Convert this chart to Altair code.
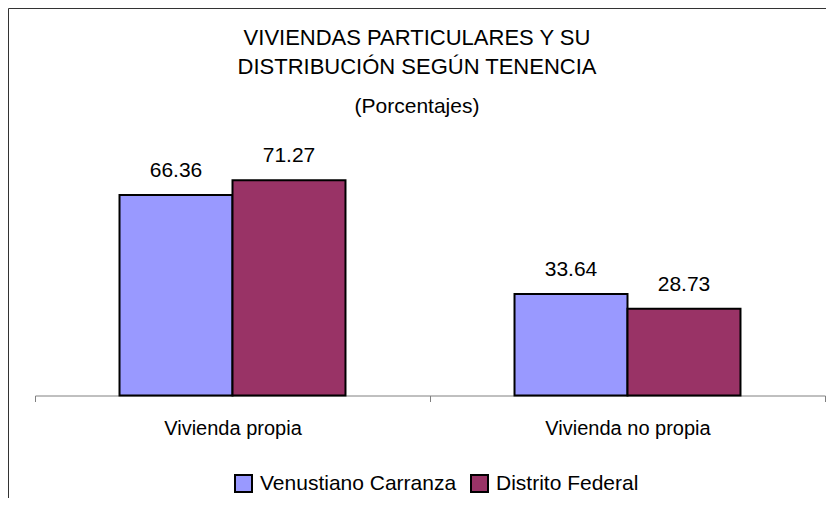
import altair as alt
import pandas as pd

categories = ["Vivienda propia", "Vivienda no propia"]
series = ["Venustiano Carranza", "Distrito Federal"]
venustiano = [66.36, 33.64]
distrito = [71.27, 28.73]
colors = ["#9999FF", "#993366"]
title_lines = ["VIVIENDAS PARTICULARES Y SU", "DISTRIBUCIÓN SEGÚN TENENCIA"]
subtitle_text = "(Porcentajes)"

rows = []
for i, c in enumerate(categories):
    rows.append({"categoria": c, "serie": series[0], "valor": venustiano[i]})
    rows.append({"categoria": c, "serie": series[1], "valor": distrito[i]})
df = pd.DataFrame(rows)

FONT = "Liberation Sans"
W, H = 818, 490
BASE = 387.5
PX_PER_UNIT = 3.02

x = alt.X(
    "categoria:N",
    sort=categories,
    scale=alt.Scale(domain=categories, range=[27, 817], paddingInner=0, paddingOuter=0),
    axis=alt.Axis(
        title=None, orient="bottom", offset=-(H - BASE), tickBand="extent",
        domainColor="#808080", tickColor="#808080", tickSize=6, domainWidth=1, tickWidth=1,
        labelFontSize=20, labelColor="black", labelFont=FONT, labelPadding=17, labelAngle=0,
    ),
)
xoff = alt.XOffset("serie:N", sort=series,
                   scale=alt.Scale(domain=series, paddingInner=0, paddingOuter=0.748))
y = alt.Y("valor:Q", scale=alt.Scale(domain=[0, 80], range=[BASE, BASE - 80 * PX_PER_UNIT],
                                      nice=False, zero=True), axis=None)
color = alt.Color(
    "serie:N", sort=series, scale=alt.Scale(domain=series, range=colors),
    legend=alt.Legend(
        title=None, orient="none", legendX=225, legendY=465, direction="horizontal",
        symbolType="square", symbolSize=289, symbolStrokeColor="black", symbolStrokeWidth=2,
        symbolOpacity=1, labelFontSize=21, labelFont=FONT, labelColor="black",
        labelOffset=6, columnPadding=10, padding=0, labelLimit=400,
    ),
)

base = alt.Chart(df).encode(x=x, xOffset=xoff, y=y)
bars = base.mark_bar(stroke="black", strokeWidth=2, opacity=1).encode(color=color)
labels = base.mark_text(dy=-18, baseline="alphabetic", fontSize=21, font=FONT, color="black").encode(
    text=alt.Text("valor:Q", format=".2f")
)

chart = alt.layer(bars, labels).properties(
    width=W, height=H,
    autosize=alt.AutoSizeParams(type="none"),
    padding=0,
    title=alt.TitleParams(
        text=title_lines, subtitle=subtitle_text, anchor="middle", offset=-110,
        font=FONT, fontSize=22, fontWeight="normal", color="black", lineHeight=29,
        subtitleFont=FONT, subtitleFontSize=21, subtitleColor="black", subtitlePadding=17,
    ),
).configure_view(stroke="#333333", strokeWidth=1)

chart.save("out.html", embed_options={"renderer": "svg", "actions": False})
